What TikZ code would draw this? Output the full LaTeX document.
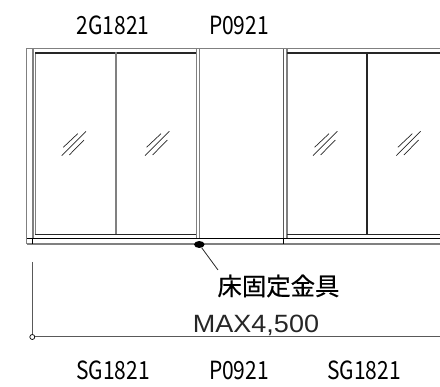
\documentclass[tikz,border=0pt]{standalone}
\usetikzlibrary{shapes.geometric}
\usepackage{fontspec}
\setmainfont{Liberation Sans}
\newfontfamily\jpfont{Noto Sans CJK JP}
\newfontfamily\jpheavy[FakeBold=0.6]{Noto Sans CJK JP}
\definecolor{lg}{gray}{0.5}
\definecolor{dk}{gray}{0.15}
\definecolor{md}{gray}{0.35}
\tikzset{
  code/.style={inner sep=0pt,anchor=base,xscale=.84,font=\jpfont\fontsize{25}{25}\selectfont,text=black},
  frameg/.style={draw=lg,line width=1pt},
  framegw/.style={draw=lg,line width=1.6pt},
  framed/.style={draw=dk,line width=1.6pt},
  thin1/.style={draw=black,line width=0.9pt},
  glass/.style={draw=dk,line width=0.7pt},
  dim/.style={draw=md,line width=1pt}
}
\newcommand{\glassmark}[1]{%
  \begin{scope}[xshift=#1pt]
  \draw[glass] (61.7,155.7) -- (86,131.3);
  \draw[glass] (63.3,147.3) -- (77.7,133.7);
  \draw[glass] (69.3,155) -- (84,140);
  \end{scope}}
\begin{document}
\begin{tikzpicture}[x=1pt,y=-1pt]
\useasboundingbox (0,0) rectangle (440,387);
% labels
\node[code] (t1) at (113,35) {2G1821};
\node[code] (t2) at (239,35) {P0921};
\node[code] (b1) at (113,380) {SG1821};
\node[code] (b2) at (239,380) {P0921};
\node[code] (b3) at (364,380) {SG1821};
\node[inner sep=0pt,font=\jpheavy\fontsize{24.4}{24.4}\selectfont] (fix) at (278.5,286) {床固定金具};
\node[inner sep=0pt,text=dk,xscale=1.08,font=\fontsize{25}{25}\selectfont] (mx) at (256,325) {MAX4,500};
% frame
\draw[frameg] (26,238.5) -- (26,48.5) -- (440,48.5);
\draw[framegw] (33,48.5) -- (33,238);
\draw[frameg] (35.5,52) -- (35.5,234);
\draw[framed,line width=1.5pt] (35,52.8) -- (196,52.8);
\draw[framegw] (116,52) -- (116,234);
\draw[framegw] (196.5,49) -- (196.5,238);
\draw[frameg] (199.5,49) -- (199.5,238);
\draw[framed,line width=1.3pt] (35,234.3) -- (196,234.3);
\draw[framed,draw=md] (283.5,49) -- (283.5,238);
\draw[framegw] (286.7,49) -- (286.7,238);
\draw[framed,line width=1.5pt] (287,52.8) -- (440,52.8);
\draw[framed] (367,52) -- (367,234);
\draw[framed,line width=1.3pt] (287,234.3) -- (440,234.3);
% sill
\draw[thin1] (26,238.5) -- (440,238.5);
\draw[framegw] (27,244.3) -- (440,244.3);
\draw[frameg] (26.5,238.5) -- (26.5,244);
\draw[thin1] (32.3,238.5) -- (32.3,244.5);
\draw[thin1,line width=.7pt] (283.5,238.5) -- (283.5,244.5);
% glass
\glassmark{0}\glassmark{83.3}\glassmark{251.3}\glassmark{334.6}
% fixing and leader
\node[fill=black,ellipse,inner sep=0pt,minimum width=10.5pt,minimum height=7pt] (dot) at (199.3,244.5) {};
\coordinate (lead) at (218,270);
\draw[draw=dk,line width=.8pt] (dot) -- (lead);
% dimension
\coordinate (dimtop) at (32.3,262);
\coordinate (dimend) at (440,337);
\node[circle,draw=black,line width=.7pt,inner sep=0pt,minimum size=5pt] (origin) at (32.3,337) {};
\draw[dim] (dimtop) -- (origin);
\draw[dim] (origin) -- (dimend);
\end{tikzpicture}
\end{document}
